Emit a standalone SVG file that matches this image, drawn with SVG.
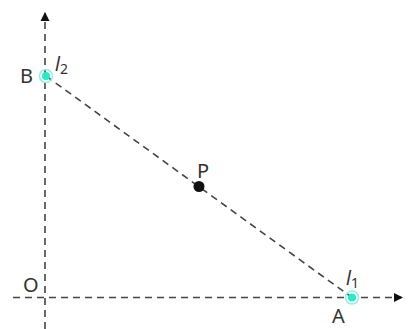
<svg xmlns="http://www.w3.org/2000/svg" width="414" height="329" viewBox="0 0 414 329">
<style>
.ax{stroke:#444;stroke-width:1.6;stroke-dasharray:7 5;fill:none}
.t{font-family:"Noto Sans","DejaVu Sans",sans-serif;font-size:20px;fill:#333}
.it{font-style:italic;font-size:19px}
.sub{font-size:14px;font-style:normal}
.pt{fill:#2ee6c8}
.ring{fill:none;stroke:#8ff2e0;stroke-width:1.5}
</style>
<defs>
<marker id="arr" markerWidth="10" markerHeight="10" refX="8" refY="5" orient="auto" markerUnits="userSpaceOnUse">
<path d="M0,0.5 L9,5 L0,9.5 Z" fill="#111"/>
</marker>
</defs>
<rect width="414" height="329" fill="#fff"/>
<g id="connectors">
<line class="ax" x1="45" y1="329" x2="45" y2="13" marker-end="url(#arr)"/>
<line class="ax" x1="13" y1="297.5" x2="402" y2="297.5" marker-end="url(#arr)"/>
<line class="ax" x1="46" y1="76" x2="352" y2="297.5"/>
</g>
<g id="O"><text class="t" x="23" y="292">O</text></g>
<g id="B">
<circle class="ring" cx="46" cy="76" r="6.5"/>
<circle class="pt" cx="46" cy="76" r="4"/>
<text class="t" x="20" y="83">B</text>
<text class="t it" x="55" y="71">l<tspan class="sub" dy="3">2</tspan></text>
</g>
<g id="A">
<circle class="ring" cx="352" cy="297.5" r="6.5"/>
<circle class="pt" cx="352" cy="297.5" r="4"/>
<text class="t" x="332" y="323">A</text>
<text class="t it" x="346" y="285">l<tspan class="sub" dy="3">1</tspan></text>
</g>
<g id="P">
<circle cx="199" cy="186.5" r="5.5" fill="#111"/>
<text class="t" x="197" y="178">P</text>
</g>
</svg>
